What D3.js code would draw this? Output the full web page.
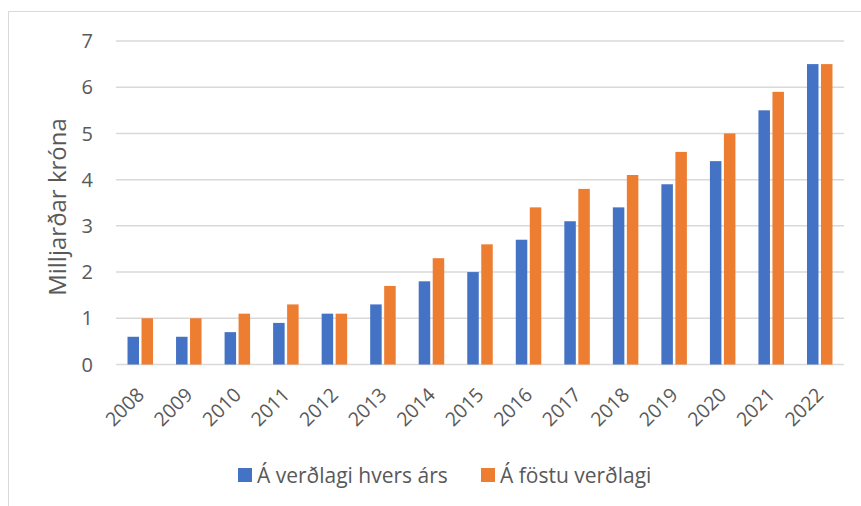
<!DOCTYPE html>
<html>
<head>
<meta charset="utf-8">
<script src="https://cdn.jsdelivr.net/npm/d3@7"></script>
<style>
  body { margin: 0; background: #fff; }
  svg text { font-family: "Open Sans", "Noto Sans", sans-serif; fill: #595959; }
</style>
</head>
<body>
<div id="chart"></div>
<script>
const years = ["2008", "2009", "2010", "2011", "2012", "2013", "2014", "2015",
  "2016", "2017", "2018", "2019", "2020", "2021", "2022"];
const currentPrices = [0.6, 0.6, 0.7, 0.9, 1.1, 1.3, 1.8, 2.0, 2.7, 3.1, 3.4, 3.9, 4.4, 5.5, 6.5];
const fixedPrices = [1.0, 1.0, 1.1, 1.3, 1.1, 1.7, 2.3, 2.6, 3.4, 3.8, 4.1, 4.6, 5.0, 5.9, 6.5];
const seriesNames = ["Á verðlagi hvers árs", "Á föstu verðlagi"];
const yTicks = [0, 1, 2, 3, 4, 5, 6, 7];
const yTitle = "Milljarðar króna";

const width = 861, height = 506;
const margin = {top: 41, right: 17, bottom: 141.5, left: 116};
const colors = ["#4472C4", "#ED7D31"];

const svg = d3.select("#chart").append("svg")
  .attr("width", width)
  .attr("height", height);

// chart frame
svg.append("rect")
  .attr("x", 8.5).attr("y", 11.5)
  .attr("width", 900).attr("height", 600)
  .attr("fill", "none")
  .attr("stroke", "#d9d9d9");

const x = d3.scaleBand()
  .domain(years)
  .range([margin.left, width - margin.right]);

const y = d3.scaleLinear()
  .domain([0, 7])
  .range([height - margin.bottom, margin.top]);

// gridlines
svg.append("g")
  .selectAll("line")
  .data(yTicks)
  .enter().append("line")
  .attr("x1", margin.left).attr("x2", width - margin.right)
  .attr("y1", d => y(d)).attr("y2", d => y(d))
  .attr("stroke", "#d9d9d9")
  .attr("stroke-width", 1.5);

// y tick labels
svg.append("g")
  .selectAll("text")
  .data(yTicks)
  .enter().append("text")
  .attr("x", 93)
  .attr("y", d => y(d))
  .attr("dy", "0.36em")
  .attr("text-anchor", "end")
  .style("font-size", "20px")
  .text(d => d);

svg.append("text")
  .attr("transform", `translate(66, 207) rotate(-90)`)
  .attr("text-anchor", "middle")
  .style("font-size", "24px")
  .text(yTitle);

// bars
const barW = 11.5, gap = 2.5;
const data = [currentPrices, fixedPrices];
data.forEach((values, s) => {
  svg.append("g")
    .selectAll("rect")
    .data(values)
    .enter().append("rect")
    .attr("x", (d, i) => x(years[i]) + x.bandwidth() / 2 + (s === 0 ? -gap / 2 - barW : gap / 2))
    .attr("y", d => y(d))
    .attr("width", barW)
    .attr("height", d => y(0) - y(d))
    .attr("fill", colors[s]);
});

// x labels
svg.append("g")
  .selectAll("text")
  .data(years)
  .enter().append("text")
  .attr("transform", d => `translate(${x(d) + x.bandwidth() / 2 + 5}, 396) rotate(-45)`)
  .attr("text-anchor", "end")
  .style("font-size", "19.5px")
  .text(d => d);

// legend
const legendX = [238, 481];
const legend = svg.append("g")
  .selectAll("g")
  .data(seriesNames)
  .enter().append("g")
  .attr("transform", (d, i) => `translate(${legendX[i]}, 468)`);

legend.append("rect")
  .attr("width", 14).attr("height", 14)
  .attr("fill", (d, i) => colors[i]);

legend.append("text")
  .attr("x", 19).attr("y", 7)
  .attr("dy", "0.36em")
  .style("font-size", "21px")
  .text(d => d);
</script>
</body>
</html>
